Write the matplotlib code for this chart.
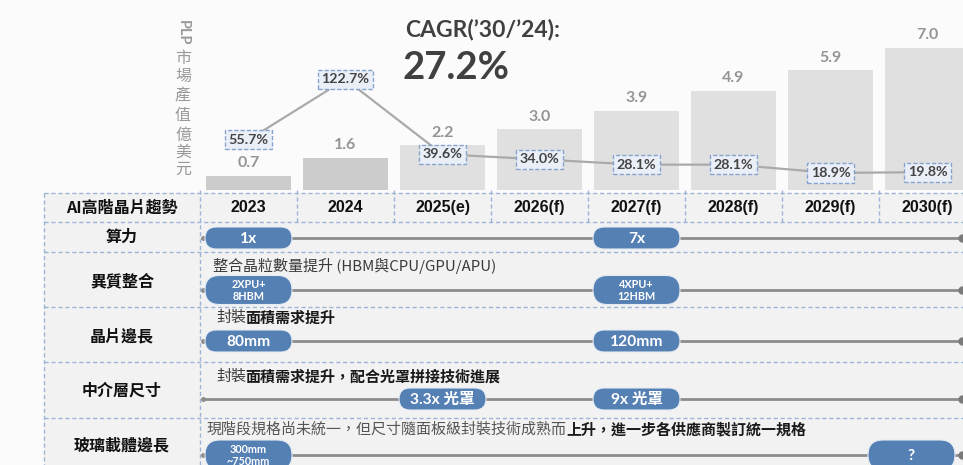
import matplotlib
matplotlib.use('Agg')
import matplotlib.pyplot as plt
from matplotlib.patches import FancyBboxPatch, Rectangle

# ---------------- data ----------------
years = ['2023', '2024', '2025(e)', '2026(f)', '2027(f)', '2028(f)', '2029(f)', '2030(f)']
plp_value = [0.7, 1.6, 2.2, 3.0, 3.9, 4.9, 5.9, 7.0]
growth_pct = [55.7, 122.7, 39.6, 34.0, 28.1, 28.1, 18.9, 19.8]
actual_years = ['2023', '2024']
cagr_label = "CAGR(’30/’24):"
cagr_value = "27.2%"
ylabel_head = "PLP"
ylabel_chars = ['市', '場', '產', '值', '億', '美', '元']
header_label = "AI高階晶片趨勢"
row_labels = ['算力', '異質整合', '晶片邊長', '中介層尺寸', '玻璃載體邊長']
row_notes = [
    None,
    [("整合晶粒數量提升 (HBM與CPU/GPU/APU)", 'normal')],
    [("封裝", 'normal'), ("面積需求提升", 'bold')],
    [("封裝", 'normal'), ("面積需求提升，配合光罩拼接技術進展", 'bold')],
    [("現階段規格尚未統一，但尺寸隨面板級封裝技術成熟而", 'normal'),
     ("上升，進一步各供應商製訂統一規格", 'bold')],
]
milestones_compute = [('1x', '2023'), ('7x', '2027(f)')]
milestones_hetero = [('2XPU+\n8HBM', '2023'), ('4XPU+\n12HBM', '2027(f)')]
milestones_die = [('80mm', '2023'), ('120mm', '2027(f)')]
milestones_interposer = [('3.3x 光罩', '2025(e)'), ('9x 光罩', '2027(f)')]
milestones_glass = [('300mm\n~750mm', '2023'), ('?', '2030(f)')]
row_milestones = [milestones_compute, milestones_hetero, milestones_die,
                  milestones_interposer, milestones_glass]

# ---------------- style / layout ----------------
CJK = ['Noto Sans CJK TC', 'DejaVu Sans']
LAT = ['Lato', 'Noto Sans CJK TC', 'DejaVu Sans']
ARIAL = ['Liberation Sans', 'Noto Sans CJK TC']
W, H = 963, 465
X_LEFT, X0, COLW = 44, 200, 97
ROW_Y = [193, 222, 252, 307, 362, 418, 470]
BASE_Y = 190
PILL = '#5580b3'
DASH = '#9db4d6'
LINE = '#8c8c8c'

plt.rcParams['font.family'] = CJK

fig = plt.figure(figsize=(W / 100, H / 100), dpi=100, facecolor='#fbfbfb')

# table axes in pixel coordinates
ax = fig.add_axes([0, 0, 1, 1])
ax.set_xlim(0, W)
ax.set_ylim(H, 0)
ax.axis('off')

ax.add_patch(Rectangle((X_LEFT, ROW_Y[0]), W - X_LEFT + 20, H - ROW_Y[0] + 10,
                       fc='#f2f2f2', ec='none', zorder=0))
ncol = len(years)
x_right = X0 + COLW * ncol
dash_kw = dict(color=DASH, lw=1.0, ls=(0, (3, 2)), zorder=2)
for y in ROW_Y[:-1]:
    ax.plot([X_LEFT, x_right], [y, y], **dash_kw)
ax.plot([X_LEFT, X_LEFT], [ROW_Y[0], H + 5], **dash_kw)
ax.plot([X0, X0], [ROW_Y[0] - 3, H + 5], **dash_kw)
for i in range(1, ncol):
    xb = X0 + COLW * i
    ax.plot([xb, xb], [ROW_Y[0] - 3, ROW_Y[1]], **dash_kw)


def col_center(year):
    return X0 + COLW * (years.index(year) + 0.5)


# header
hy = (ROW_Y[0] + ROW_Y[1]) / 2
ax.text((X_LEFT + X0) / 2, hy, header_label, ha='center', va='center',
        fontsize=11.5, fontweight='bold', color='#111111', family=CJK)
for yr in years:
    ax.text(col_center(yr), hy, yr, ha='center', va='center', fontsize=11.5,
            fontweight='bold', color='#111111', family=ARIAL)

# rows
label_y = [237, 281, 336, 390, 445]
note_pos = [None, (213, 266), (216, 318), (216, 377), (207, 429)]
pill_y = [238, 290, 341, 399, 455]
pill_h = [22, 29, 22, 22, 30]
line_start = 203
pill_xoff = {('?', '2030(f)'): -16}


def pill(cx, cy, w, h, label, multi):
    p = FancyBboxPatch((cx - w / 2, cy - h / 2), w, h,
                       boxstyle=f"round,pad=0,rounding_size={h / 2}",
                       fc=PILL, ec='#e4ebf3', lw=0.8, zorder=5)
    ax.add_patch(p)
    ax.text(cx, cy + 0.5, label, ha='center', va='center', color='white',
            fontsize=7.8 if multi else 11.2, fontweight='bold', family=LAT,
            linespacing=1.15, zorder=6)


for r, lab in enumerate(row_labels):
    ax.text((X_LEFT + X0) / 2, label_y[r], lab, ha='center', va='center',
            fontsize=11.5, fontweight='bold', color='#111111', family=CJK)
    notes = row_notes[r]
    if notes:
        nx, ny = note_pos[r]
        prev = None
        for txt, wt in notes:
            col = '#3a3a3a' if wt == 'normal' else '#1a1a1a'
            if r == 4 and wt == 'normal':
                col = '#555555'
            if prev is None:
                prev = ax.text(nx, ny, txt, ha='left', va='center', fontsize=10.8,
                               fontweight=wt, color=col, family=CJK)
            else:
                prev = ax.annotate(txt, xy=(1, 0.5), xycoords=prev,
                                   xytext=(-1, 0), textcoords='offset pixels',
                                   ha='left', va='center', fontsize=10.8,
                                   fontweight=wt, color=col, family=CJK)
    cy = pill_y[r]
    ax.plot([line_start, W + 5], [cy, cy], color=LINE, lw=2.0, zorder=3,
            solid_capstyle='butt')
    ax.plot([line_start], [cy], 'o', color=LINE, ms=2.5, zorder=3)
    ax.plot([W - 1], [cy], 'o', color='#7a7a7a', ms=5, zorder=3)
    for lbl, yr in row_milestones[r]:
        cx = col_center(yr) + pill_xoff.get((lbl, yr), 0)
        pill(cx, cy, 87, pill_h[r], lbl, '\n' in lbl)

# ---------------- bar chart ----------------
axb = fig.add_axes([X0 / W, 1 - BASE_Y / H, COLW * ncol / W, BASE_Y / H])
axb.set_xlim(-0.5, ncol - 0.5)
axb.set_ylim(0, BASE_Y / 20.3)
axb.axis('off')
axb.patch.set_alpha(0)
xs = list(range(ncol))
colors = ['#cccccc' if y in actual_years else '#e0e0e0' for y in years]
bars = axb.bar(xs, plp_value, width=0.87, color=colors, zorder=1)
for x, v in zip(xs, plp_value):
    axb.annotate(f"{v:.1f}", xy=(x, v), xytext=(0, 4), textcoords='offset points',
                 ha='center', va='bottom', fontsize=11.5, fontweight='bold',
                 color='#959595', family=LAT)

ax2 = axb.twinx()
ax2.set_ylim(0, BASE_Y / 0.902)
ax2.axis('off')
ax2.plot(xs, growth_pct, color='#aaaaaa', lw=1.6, zorder=2)
for x, g in zip(xs, growth_pct):
    ax2.text(x, g, f"{g:.1f}%", ha='center', va='center', fontsize=10.3,
             fontweight='bold', color='#444444', family=LAT, zorder=4,
             bbox=dict(boxstyle='square,pad=0.25', fc='#e9eef7', ec='#86a3cf',
                       ls=(0, (3, 1.5)), lw=1.0))

# CAGR text
ax.text(405, 29, cagr_label, ha='left', va='center', fontsize=16.5,
        fontweight='bold', color='#404040', family=LAT)
ax.text(403, 68, cagr_value, ha='left', va='center', fontsize=27.5,
        fontweight='bold', color='#404040', family=LAT)

# vertical y-label
ax.text(183, 33, ylabel_head, rotation=270, ha='center', va='center',
        fontsize=10.5, fontweight='bold', color='#9a9a9a', family=LAT)
for ch, yc in zip(ylabel_chars, [58, 76, 96, 115, 135, 152, 169]):
    ax.text(183, yc, ch, ha='center', va='center', fontsize=11.5,
            color='#999999', family=CJK)

fig.savefig('out.png', dpi=100, facecolor=fig.get_facecolor())
